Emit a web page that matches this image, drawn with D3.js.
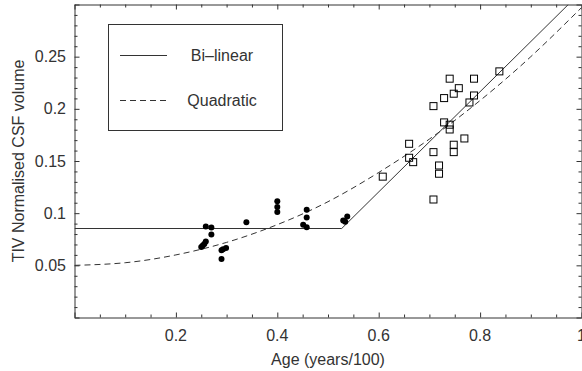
<!DOCTYPE html>
<html>
<head>
<meta charset="utf-8">
<script src="https://cdn.jsdelivr.net/npm/d3@7"></script>
<style>
  html, body { margin: 0; padding: 0; background: #fff; }
  svg text { font-family: "Liberation Sans", Arial, sans-serif; fill: #333; }
</style>
</head>
<body>
<svg id="chart" width="582" height="371"></svg>
<script>
// ---- data ----
const youngX = [0.259, 0.270, 0.270, 0.259, 0.256, 0.253, 0.250, 0.293, 0.299, 0.290, 0.290, 0.339, 0.400, 0.400, 0.400, 0.458, 0.458, 0.451, 0.458, 0.530, 0.538, 0.534];
const youngY = [0.0872, 0.0862, 0.0796, 0.0729, 0.0705, 0.0690, 0.0675, 0.0654, 0.0666, 0.0644, 0.0560, 0.0914, 0.1115, 0.1058, 0.1010, 0.1033, 0.0959, 0.0889, 0.0866, 0.0930, 0.0968, 0.0918];
const oldX = [0.740, 0.788, 0.758, 0.748, 0.729, 0.788, 0.838, 0.779, 0.708, 0.729, 0.740, 0.740, 0.769, 0.660, 0.748, 0.708, 0.748, 0.660, 0.668, 0.719, 0.719, 0.708, 0.608];
const oldY = [0.2289, 0.2289, 0.2198, 0.2145, 0.2103, 0.2128, 0.2359, 0.2061, 0.2026, 0.1870, 0.1848, 0.1802, 0.1716, 0.1665, 0.1656, 0.1585, 0.1585, 0.1531, 0.1489, 0.1457, 0.1378, 0.1131, 0.1350];
const bilinX = [0, 0.527, 0.974];
const bilinY = [0.0853, 0.0853, 0.300];
const quadX = [0, 0.1, 0.2, 0.3, 0.4, 0.5, 0.6, 0.7, 0.8, 0.9, 1.0];
const quadY = [0.050, 0.0525, 0.060, 0.072, 0.089, 0.111, 0.139, 0.171, 0.208, 0.250, 0.297];
const xTickLabels = [0.2, 0.4, 0.6, 0.8, 1];
const yTickLabels = [0.05, 0.1, 0.15, 0.2, 0.25];
const legendNames = ["Bi\u2013linear", "Quadratic"];

// ---- layout ----
const L = 74.5, R = 581.5, T = 4.5, B = 317.5;
const svg = d3.select("#chart");
const x = d3.scaleLinear().domain([0, 1]).range([L, R]);
const y = d3.scaleLinear().domain([0, 0.3]).range([B, T]);
const FS = "16px";
const ink = "#333";

svg.append("defs").append("clipPath").attr("id", "clip")
  .append("rect").attr("x", L).attr("y", T).attr("width", R - L).attr("height", B - T);

// ticks on all four sides, pointing inward
const xMinor = d3.range(0, 1.0001, 0.05);
const yMinor = d3.range(0, 0.3001, 0.01);
const isMajorX = v => Math.abs(v * 5 - Math.round(v * 5)) < 1e-6;
const isMajorY = v => Math.abs(v * 20 - Math.round(v * 20)) < 1e-6;

function axis(gen, tr, tickVals, majorFn) {
  const g = svg.append("g").attr("transform", tr).call(gen.tickValues(tickVals).tickFormat("").tickSizeOuter(0));
  g.select(".domain").attr("stroke", ink);
  g.selectAll(".tick line").attr("stroke", ink).each(function(d) {
    const s = majorFn(d) ? 5 : 3;
    const ln = d3.select(this);
    if (ln.attr("x2") !== null && +ln.attr("x2") !== 0) ln.attr("x2", Math.sign(+ln.attr("x2")) * s);
    if (ln.attr("y2") !== null && +ln.attr("y2") !== 0) ln.attr("y2", Math.sign(+ln.attr("y2")) * s);
  });
  return g;
}
axis(d3.axisBottom(x).tickSize(-3), `translate(0,${B})`, xMinor, isMajorX);
axis(d3.axisTop(x).tickSize(-3), `translate(0,${T})`, xMinor, isMajorX);
axis(d3.axisLeft(y).tickSize(-3), `translate(${L},0)`, yMinor, isMajorY);
axis(d3.axisRight(y).tickSize(-3), `translate(${R},0)`, yMinor, isMajorY);

// tick labels
svg.append("g").selectAll("text").data(xTickLabels).join("text")
  .attr("x", d => x(d)).attr("y", 341).attr("text-anchor", "middle")
  .style("font-size", FS).text(d => d3.format("~g")(d));
svg.append("g").selectAll("text").data(yTickLabels).join("text")
  .attr("x", 66).attr("y", d => y(d)).attr("dy", "0.35em").attr("text-anchor", "end")
  .style("font-size", FS).text(d => d3.format("~g")(d));

// axis titles
svg.append("text").attr("x", (L + R) / 2).attr("y", 365).attr("text-anchor", "middle")
  .style("font-size", FS).text("Age (years/100)");
svg.append("text").attr("transform", `translate(24,${(T + B) / 2}) rotate(-90)`)
  .attr("text-anchor", "middle").style("font-size", FS).text("TIV Normalised CSF volume");

// fitted lines
const plot = svg.append("g").attr("clip-path", "url(#clip)");
const line = d3.line().x(d => x(d[0])).y(d => y(d[1]));
plot.append("path").datum(d3.zip(bilinX, bilinY)).attr("d", line)
  .attr("fill", "none").attr("stroke", ink).attr("stroke-width", 1);
plot.append("path").datum(d3.zip(quadX, quadY)).attr("d", line.curve(d3.curveNatural))
  .attr("fill", "none").attr("stroke", ink).attr("stroke-width", 1).attr("stroke-dasharray", "6,4");

// points
plot.append("g").selectAll("circle").data(d3.zip(youngX, youngY)).join("circle")
  .attr("cx", d => x(d[0])).attr("cy", d => y(d[1])).attr("r", 3).attr("fill", "#000");
plot.append("g").selectAll("rect").data(d3.zip(oldX, oldY)).join("rect")
  .attr("x", d => x(d[0]) - 3.5).attr("y", d => y(d[1]) - 3.5).attr("width", 7).attr("height", 7)
  .attr("fill", "none").attr("stroke", "#000").attr("stroke-width", 1);

// legend
const lg = svg.append("g");
lg.append("rect").attr("x", 108.5).attr("y", 24.5).attr("width", 174).attr("height", 106)
  .attr("fill", "#fff").attr("stroke", ink);
const legY = [55.5, 100.5];
legendNames.forEach((name, i) => {
  lg.append("line").attr("x1", 120).attr("x2", 167).attr("y1", legY[i]).attr("y2", legY[i])
    .attr("stroke", ink).attr("stroke-dasharray", i === 1 ? "6,4" : null);
  lg.append("text").attr("x", 222).attr("y", legY[i]).attr("dy", "0.35em").attr("text-anchor", "middle")
    .style("font-size", FS).text(name);
});
</script>
</body>
</html>
